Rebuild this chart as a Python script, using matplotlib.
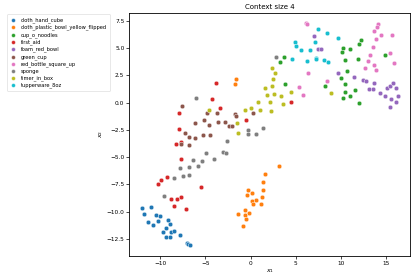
"""
plot.py — context size 4 embedding scatter (2D), legend placed outside on the left.
"""
import matplotlib
matplotlib.use('Agg')
import matplotlib.pyplot as plt

# ── 데이터 ────────────────────────────────────────────────────────────────────
LABELS = ['cloth_hand_cube', 'cloth_plastic_bowl_yellow_flipped', 'cup_o_noodles',
          'first_aid', 'foam_red_bowl', 'green_cup', 'red_bottle_square_up',
          'sponge', 'timer_in_box', 'tupperware_8oz']

cloth_hand_cube = [
    (-12.02, -9.68), (-11.73, -10.20), (-11.39, -10.99), (-11.06, -9.59), (-10.77, -11.24),
    (-10.40, -10.29), (-10.18, -10.90), (-9.96, -10.38), (-9.70, -11.85), (-9.40, -11.48),
    (-9.40, -12.31), (-9.11, -10.81), (-8.92, -12.34), (-8.89, -11.11), (-8.78, -11.88),
    (-8.52, -11.76), (-7.85, -12.18), (-7.08, -12.89), (-6.90, -12.98), (-6.75, -13.10)]

cloth_plastic_bowl = [
    (-1.66, 2.17), (-1.73, 1.68), (-1.36, -10.26), (-0.85, -11.27), (-0.66, -9.86),
    (-0.59, -10.35), (-0.52, -10.66), (-0.44, -8.46), (-0.26, -7.97), (-0.18, -10.14),
    (0.11, -8.31), (0.18, -9.04), (0.26, -9.28), (0.59, -8.92), (1.14, -9.28),
    (1.22, -8.67), (1.33, -8.03), (1.36, -7.30), (1.62, -6.56), (3.13, -5.80)]

cup_o_noodles = [
    (3.73, 4.21), (3.21, 3.76), (3.84, 1.71), (8.19, 1.56), (12.17, 5.77),
    (11.99, 5.40), (10.18, 4.98), (10.14, 4.64), (10.95, 4.92), (10.37, 3.91),
    (11.91, 4.03), (14.82, 4.34), (10.59, 2.90), (9.96, 2.26), (10.37, 1.68),
    (11.47, 1.13), (10.44, 0.95), (10.95, 0.61), (10.22, 0.43), (11.99, 0.0)]

first_aid = [
    (-3.87, 1.80), (-4.31, 0.34), (-3.35, -0.49), (-7.92, -0.94), (-0.48, -1.56),
    (-7.96, -2.38), (-7.74, -3.63), (-8.25, -3.78), (-7.67, -5.16), (-9.29, -6.80),
    (-9.91, -7.14), (-10.18, -7.51), (-5.49, -7.78), (-8.77, -8.82), (-8.11, -8.82),
    (-7.67, -8.64), (-8.52, -9.52), (-7.19, -9.73), (4.50, 0.03)]

foam_red_bowl = [
    (6.97, 6.14), (7.49, 4.95), (7.82, 4.95), (9.70, 2.75), (11.44, 2.33),
    (12.43, 2.11), (12.69, 1.96), (13.65, 1.78), (13.05, 1.25), (13.46, 1.28),
    (14.27, 0.89), (14.87, 0.58), (15.01, 1.35), (15.42, 1.50), (15.71, 1.78),
    (16.04, 1.35), (16.23, 0.64), (15.49, 0.34), (16.04, 0.04), (15.42, -0.37)]

green_cup = [
    (-7.59, -0.33), (-4.87, -0.92), (-3.68, -0.92), (-1.77, -1.03), (-1.66, -1.19),
    (-6.12, -1.86), (-5.12, -1.61), (-4.57, -2.04), (-3.61, -1.77), (-2.83, -1.77),
    (-2.43, -2.13), (-2.06, -2.13), (-7.22, -2.80), (-5.27, -2.93), (-4.54, -2.99),
    (-6.81, -3.20), (-6.15, -3.23), (-7.67, -3.78), (-6.81, -3.90), (0.30, -0.97)]

red_bottle_square_up = [
    (6.08, 7.27), (6.24, 7.21), (6.35, 2.75), (8.41, 1.99), (5.31, 1.44),
    (5.75, 0.68), (14.02, 7.21), (13.94, 6.96), (13.61, 6.57), (14.35, 6.20),
    (15.60, 6.23), (13.79, 5.83), (13.54, 5.10), (13.17, 4.40), (15.42, 4.58),
    (12.91, 3.79), (13.57, 3.48), (15.82, 3.66), (12.65, 3.20), (13.87, 2.97)]

sponge = [
    (2.81, 4.15), (-6.08, 0.46), (-0.29, -2.50), (-0.33, -2.90), (0.63, -2.84),
    (1.33, -2.32), (-2.61, -3.57), (-3.05, -4.54), (-2.69, -4.64), (-4.90, -4.58),
    (-4.02, -5.19), (-5.42, -5.37), (-6.37, -5.31), (-5.82, -5.80), (-6.86, -5.92),
    (-7.81, -6.04), (-6.81, -6.62), (-7.52, -6.71), (-8.44, -6.93), (-9.55, -8.54)]

timer_in_box = [
    (2.32, 3.15), (2.73, 2.69), (2.43, 2.14), (1.59, 1.37), (2.32, 1.50),
    (1.81, 0.71), (2.62, 0.77), (3.40, 0.64), (4.47, 0.95), (0.85, 0.04),
    (2.10, 0.09), (3.58, -0.09), (-0.59, -0.64), (0.04, -0.49), (1.07, -0.64),
    (2.21, -0.76), (8.82, 0.92), (-4.57, -0.64), (-1.50, -1.86), (-1.44, -2.77)]

tupperware_8oz = [
    (7.46, 6.72), (8.41, 6.41), (4.94, 5.59), (4.98, 5.22), (5.53, 4.85),
    (6.60, 4.85), (7.12, 5.56), (4.61, 4.03), (6.19, 3.82), (7.20, 4.10),
    (7.25, 3.95), (8.08, 3.91), (8.52, 3.70), (9.70, 5.90)]

SERIES = [cloth_hand_cube, cloth_plastic_bowl, cup_o_noodles, first_aid, foam_red_bowl,
          green_cup, red_bottle_square_up, sponge, timer_in_box, tupperware_8oz]
COLORS = ['#1f77b4', '#ff7f0e', '#2ca02c', '#d62728', '#9467bd',
          '#8c564b', '#e377c2', '#7f7f7f', '#bcbd22', '#17becf']

# ── 그림 ──────────────────────────────────────────────────────────────────────
plt.rcParams['font.family'] = 'DejaVu Sans'
fig = plt.figure(figsize=(4.15, 2.77), dpi=100, facecolor='white')
ax = fig.add_axes([0.3116, 0.076, 0.988 - 0.3116, 0.954 - 0.076])

for pts, lab, clr in zip(SERIES, LABELS, COLORS):
    xs = [p[0] for p in pts]
    ys = [p[1] for p in pts]
    ax.scatter(xs, ys, s=11, c=clr, edgecolors='white', linewidths=0.3, label=lab)

ax.set_xlim(-13.4, 17.6)
ax.set_ylim(-14.06, 8.23)
ax.set_xticks([-10, -5, 0, 5, 10, 15])
ax.set_yticks([-12.5, -10.0, -7.5, -5.0, -2.5, 0.0, 2.5, 5.0, 7.5])
ax.tick_params(labelsize=4.2, length=2, width=0.5, pad=1.5)
for sp in ax.spines.values():
    sp.set_linewidth(0.6)
ax.set_title('Context size 4', fontsize=5, pad=3)
ax.set_xlabel('$x_1$', fontsize=4.5, labelpad=1)
ax.set_ylabel('$x_2$', fontsize=4.5, labelpad=1)

handles, labels = ax.get_legend_handles_labels()
leg = fig.legend(handles, labels, loc='upper left', bbox_to_anchor=(0.017, 0.949),
                 fontsize=3.7, frameon=True, markerscale=0.85, handletextpad=0.9,
                 labelspacing=0.32, borderpad=0.6, handlelength=1.2,
                 borderaxespad=0.0)
leg.get_frame().set_linewidth(0.4)

fig.savefig('out.png', dpi=100, facecolor='white')
